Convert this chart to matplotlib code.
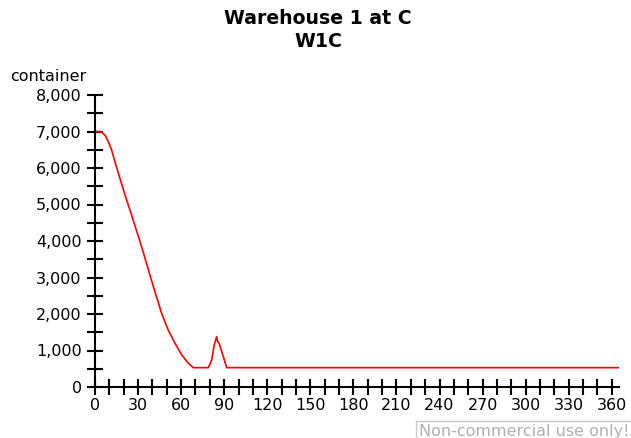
import numpy as np
import matplotlib.pyplot as plt
from matplotlib.ticker import MultipleLocator, FuncFormatter

# values
time = [0, 4, 7, 9.3, 11.6, 13.9, 17.4, 20.9, 24.4, 27.9, 31.3, 33.6, 36, 39.5, 43, 46.5,
        51, 55.7, 60.4, 65, 68.5, 79, 81.3, 83, 84.7, 85.4, 86.4, 89.4, 91.7, 365]
containers = [7000, 7000, 6900, 6720, 6490, 6170, 5710, 5260, 4840, 4410, 3990, 3690, 3370,
              2900, 2450, 2010, 1560, 1200, 880, 650, 530, 530, 740, 1150, 1380, 1240, 1200,
              830, 530, 530]

title_lines = ["Warehouse 1 at C", "W1C"]
y_label = "container"

fig = plt.figure(figsize=(6.31, 4.38), dpi=100)
ax = fig.add_axes([95 / 631, 1 - 387 / 438, 524 / 631, 292 / 438])

ax.plot(time, containers, color='red', linewidth=1.2)

ax.set_xlim(0, 365)
ax.set_ylim(0, 8000)
ax.spines['top'].set_visible(False)
ax.spines['right'].set_visible(False)
for s in ['left', 'bottom']:
    ax.spines[s].set_linewidth(1.5)

ax.xaxis.set_major_locator(MultipleLocator(30))
ax.xaxis.set_minor_locator(MultipleLocator(10))
ax.yaxis.set_major_locator(MultipleLocator(1000))
ax.yaxis.set_minor_locator(MultipleLocator(500))
ax.yaxis.set_major_formatter(FuncFormatter(lambda v, p: f"{int(v):,}"))
ax.tick_params(which='both', direction='inout', length=12, width=1.5, labelsize=11.5, color='black')
ax.tick_params(axis='x', which='major', pad=2)

fig.text(318 / 631, 1 - 9 / 438, "\n".join(title_lines), ha='center', va='top',
         fontsize=13.6, fontweight='bold', linespacing=1.25)
fig.text(10 / 631, 1 - 81 / 438, y_label, ha='left', va='baseline', fontsize=11.5)
fig.text(419 / 631, 1 - 436 / 438, "Non-commercial use only!", ha='left', va='baseline',
         fontsize=11.5, color='#b0b0b0',
         bbox=dict(facecolor='white', edgecolor='#c8c8c8', pad=2))

fig.savefig('out.png', dpi=100)
